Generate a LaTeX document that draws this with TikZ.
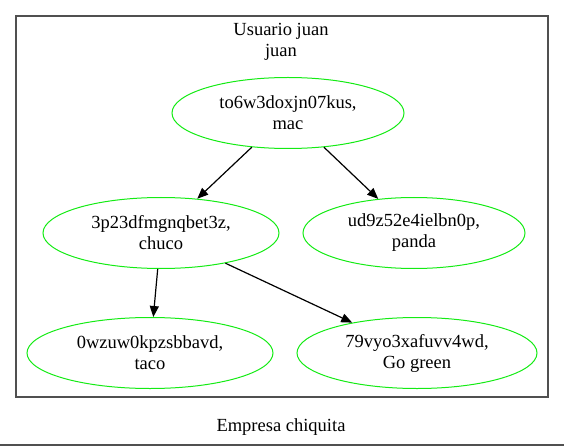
\documentclass[tikz,border=0pt]{standalone}
\usepackage{fontspec}
\setmainfont{Liberation Serif}
\usepackage{tikz}
\usetikzlibrary{shapes.geometric, arrows.meta}
\definecolor{verde}{RGB}{20,235,20}
\definecolor{marco}{RGB}{80,80,80}
\tikzstyle{cuenta} = [ellipse, draw=verde, line width=1pt, inner sep=0pt, minimum height=71pt, align=center, font=\fontsize{18.5}{21}\selectfont]
\tikzstyle{texto} = [inner sep=0pt, align=center, font=\fontsize{18.5}{21}\selectfont]
\tikzstyle{arrow} = [line width=1.2pt,-{Triangle[length=11pt,width=9pt]}]

\begin{document}
\begin{tikzpicture}[x=1pt,y=-1pt]
	\useasboundingbox (0,0) rectangle (564,446);
	%cluster del usuario
	\draw[marco,line width=2pt](16,16) rectangle (548,397);
	\node[texto] (usuario) at (281,42) {Usuario juan\\juan};
	
	%cuentas
	\node[cuenta, minimum width=232pt] (mac) at (288,113) {to6w3doxjn07kus,\\mac};
	\node[cuenta, minimum width=236pt] (chuco) at (161,233) {3p23dfmgnqbet3z,\\chuco};
	\node[cuenta, minimum width=222pt] (panda) at (414,233) {ud9z52e4ielbn0p,\\panda};
	\node[cuenta, minimum width=246pt] (taco) at (150,353) {0wzuw0kpzsbbavd,\\taco};
	\node[cuenta, minimum width=240pt] (gogreen) at (417,353) {79vyo3xafuvv4wd,\\Go green};
	
	\draw[arrow] (mac) -- (chuco);
	\draw[arrow] (mac) -- (panda);
	\draw[arrow] (chuco) -- (taco);
	\draw[arrow] (chuco) -- (gogreen);
	
	%empresa
	\node[texto] (empresa) at (281,427) {Empresa chiquita};
	\draw[marco,line width=2pt](0,445) -- (564,445);
\end{tikzpicture}
\end{document}
